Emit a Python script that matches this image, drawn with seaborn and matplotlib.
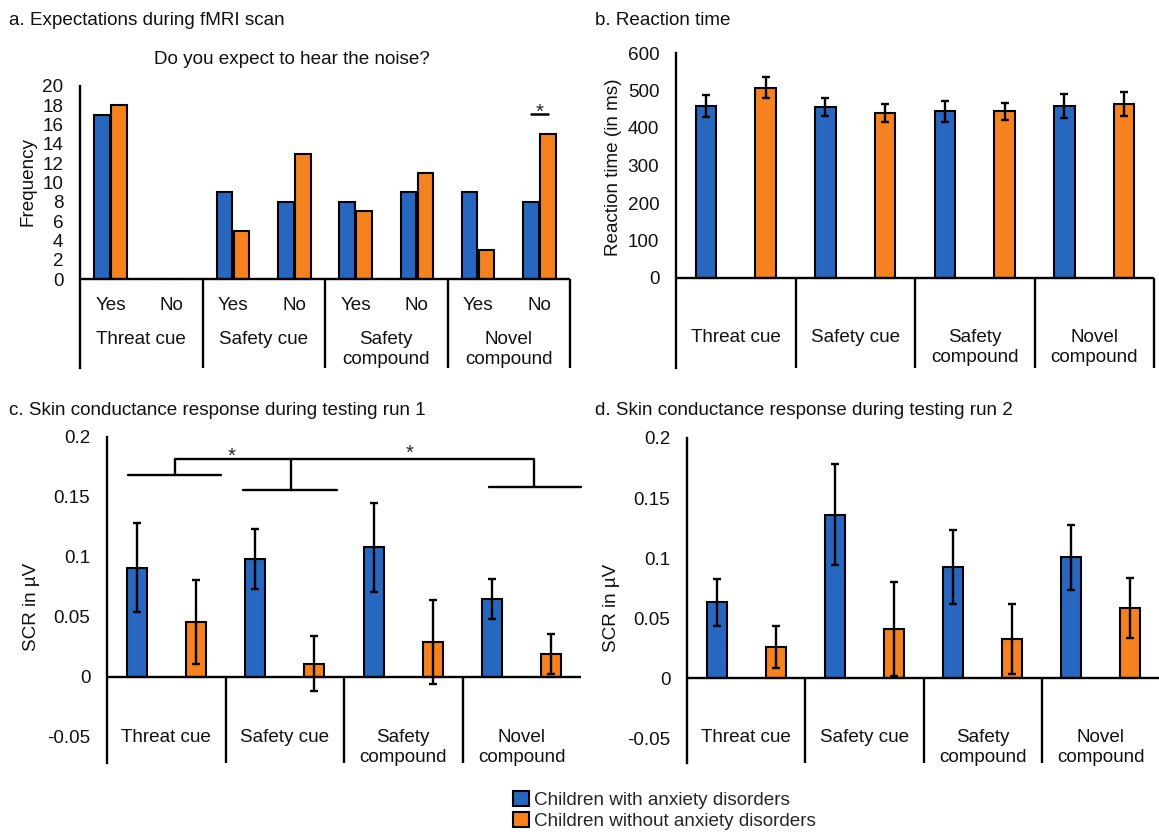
import matplotlib
matplotlib.use("Agg")
import matplotlib.pyplot as plt
import pandas as pd
import seaborn as sns
from matplotlib.patches import Patch

# ---------------------------------------------------------------- data
GROUPS = ["Children with anxiety disorders", "Children without anxiety disorders"]
CUES = ["Threat cue", "Safety cue", "Safety\ncompound", "Novel\ncompound"]
ANSWERS = ["Yes", "No"]

# a. "Do you expect to hear the noise?" answer counts (Yes/No per cue)
expect_anx = [17, 0, 9, 8, 8, 9, 9, 8]
expect_ctrl = [18, 0, 5, 13, 7, 11, 3, 15]

# b. reaction time in ms (mean, SE)
rt_anx = [459, 456, 445, 459]
rt_anx_se = [30, 24, 28, 33]
rt_ctrl = [507, 440, 445, 464]
rt_ctrl_se = [28, 23, 23, 32]

# c. skin conductance response, testing run 1 (mean, SE)
scr1_anx = [0.091, 0.098, 0.108, 0.065]
scr1_anx_se = [0.037, 0.025, 0.037, 0.017]
scr1_ctrl = [0.046, 0.011, 0.029, 0.019]
scr1_ctrl_se = [0.035, 0.023, 0.035, 0.0165]

# d. skin conductance response, testing run 2 (mean, SE)
scr2_anx = [0.063, 0.136, 0.0925, 0.1005]
scr2_anx_se = [0.0195, 0.042, 0.031, 0.027]
scr2_ctrl = [0.026, 0.041, 0.0325, 0.0585]
scr2_ctrl_se = [0.0175, 0.039, 0.029, 0.025]

PALETTE = {GROUPS[0]: "#2767C0", GROUPS[1]: "#F5821F"}

# ---------------------------------------------------------------- style
sns.set_style("white")
plt.rcParams["font.family"] = ["Liberation Sans", "DejaVu Sans"]
FS = 13.6
LINE_PX = 20          # distance between stacked label lines, in pixels
plt.rcParams["font.size"] = FS

W, H = 1159, 834
fig = plt.figure(figsize=(W / 100, H / 100), dpi=100)


def add_axes_px(left, right, top, bottom):
    return fig.add_axes([left / W, 1 - bottom / H, (right - left) / W, (bottom - top) / H])


def data_y(ax, px):
    """Figure pixel row (from top) -> data y of the axes."""
    return ax.transData.inverted().transform((0, H - px))[1]


def long_frame(cats, anx, ctrl):
    rows = []
    for grp, vals in ((GROUPS[0], anx), (GROUPS[1], ctrl)):
        for c, v in zip(cats, vals):
            rows.append({"cat": c, "group": grp, "value": v})
    return pd.DataFrame(rows)


def draw_bars(ax, cats, anx, ctrl, width, gap):
    df = long_frame(cats, anx, ctrl)
    sns.barplot(data=df, x="cat", y="value", hue="group", order=cats,
                hue_order=GROUPS, palette=PALETTE, saturation=1,
                width=width, gap=gap, errorbar=None, edgecolor="black",
                linewidth=1.5, legend=False, ax=ax, zorder=2)


def draw_errors(ax, errs_by_group):
    for cont, errs in zip(ax.containers, errs_by_group):
        xs, ys, es = [], [], []
        for p in cont.patches:
            cx = p.get_x() + p.get_width() / 2
            xs.append(cx)
            ys.append(p.get_height())
            es.append(errs[int(round(cx))])
        ax.errorbar(xs, ys, yerr=es, fmt="none", ecolor="black",
                    elinewidth=1.7, capsize=2.6, capthick=1.7, zorder=4)


def frame(ax, ylim, ticks, labels, dividers):
    ax.set_ylim(*ylim)
    ax.set_yticks(ticks, labels)
    ax.set_xticks([])
    ax.set_xlabel("")
    ax.set_ylabel("")
    for s in ("top", "right", "bottom"):
        ax.spines[s].set_visible(False)
    ax.spines["left"].set_linewidth(1.7)
    ax.spines["left"].set_color("black")
    ax.tick_params(axis="y", length=0, pad=12, labelsize=FS, colors="#111111")
    ax.axhline(0, color="black", lw=1.7, zorder=3)
    ax.vlines(dividers, ylim[0], 0, color="black", lw=1.7, clip_on=False)


def ylabel(text, cx, cy):
    fig.text(cx / W, 1 - cy / H, text, rotation=90, ha="center", va="center",
             fontsize=FS, color="#111111")


def cue_labels(ax, xs, labels, baseline_px):
    for x, lab in zip(xs, labels):
        for k, line in enumerate(lab.split("\n")):
            y = data_y(ax, baseline_px + k * LINE_PX)
            ax.text(x, y, line, ha="center", va="baseline", fontsize=FS,
                    color="#111111")


# ---------------------------------------------------------------- a
ax_a = add_axes_px(80, 570, 86, 368)
slots = [f"{c}|{a}" for c in CUES for a in ANSWERS]
draw_bars(ax_a, slots, expect_anx, expect_ctrl, width=0.56, gap=0.1)
ax_a.set_xlim(-0.5, 7.5)
frame(ax_a, (-9.22, 20), range(0, 21, 2), [str(v) for v in range(0, 21, 2)],
      [1.5, 3.5, 5.5, 7.5])
cue_labels(ax_a, range(8), ANSWERS * 4, 310)
cue_labels(ax_a, [0.5, 2.5, 4.5, 6.5], CUES, 344)
# significance marker over Novel compound / No
ax_a.plot([6.86, 7.14], [17.1, 17.1], color="black", lw=1.8, clip_on=False)
ax_a.text(7.0, 16.75, "*", ha="center", va="baseline", fontsize=FS + 1)
ylabel("Frequency", 28, 182)

# ---------------------------------------------------------------- b
ax_b = add_axes_px(676, 1154, 53, 368)
draw_bars(ax_b, CUES, rt_anx, rt_ctrl, width=1.0, gap=0.66)
ax_b.set_xlim(-0.5, 3.5)
draw_errors(ax_b, [rt_anx_se, rt_ctrl_se])
frame(ax_b, (-240, 600), range(0, 601, 100), [str(v) for v in range(0, 601, 100)],
      [0.5, 1.5, 2.5, 3.5])
cue_labels(ax_b, range(4), CUES, 342)
ylabel("Reaction time (in ms)", 614, 167)

# ---------------------------------------------------------------- c / d
scr_ticks = [-0.05, 0, 0.05, 0.1, 0.15, 0.2]
scr_labels = ["-0.05", "0", "0.05", "0.1", "0.15", "0.2"]

ax_c = add_axes_px(107, 581, 437, 763)
draw_bars(ax_c, CUES, scr1_anx, scr1_ctrl, width=1.0, gap=0.66)
ax_c.set_xlim(-0.5, 3.5)
draw_errors(ax_c, [scr1_anx_se, scr1_ctrl_se])
frame(ax_c, (-0.0717, 0.2), scr_ticks, scr_labels, [0.5, 1.5, 2.5])
cue_labels(ax_c, range(4), CUES, 742)
ylabel("SCR in µV", 32, 607)

# comparison brackets: threat vs safety cue, safety cue vs novel compound
br = dict(color="black", lw=1.7, clip_on=False, zorder=5)
ax_c.plot([-0.32, 0.466], [0.168, 0.168], **br)
ax_c.plot([0.076, 0.076, 3.10, 3.10], [0.168, 0.182, 0.182, 0.158], **br)
ax_c.plot([1.05, 1.05], [0.182, 0.156], **br)
ax_c.plot([0.65, 1.44], [0.156, 0.156], **br)
ax_c.plot([2.72, 3.5], [0.158, 0.158], **br)
ax_c.text(0.55, 0.179, "*", ha="center", va="baseline", fontsize=FS + 1)
ax_c.text(2.05, 0.1815, "*", ha="center", va="baseline", fontsize=FS + 1)

ax_d = add_axes_px(687, 1160, 438, 763)
draw_bars(ax_d, CUES, scr2_anx, scr2_ctrl, width=1.0, gap=0.66)
ax_d.set_xlim(-0.5, 3.5)
draw_errors(ax_d, [scr2_anx_se, scr2_ctrl_se])
frame(ax_d, (-0.0708, 0.2), scr_ticks, scr_labels, [0.5, 1.5, 2.5])
cue_labels(ax_d, range(4), CUES, 742)
ylabel("SCR in µV", 612, 608)

# ---------------------------------------------------------------- titles
def title(x, y, text):
    fig.text(x / W, 1 - y / H, text, ha="left", va="baseline", fontsize=FS,
             color="#111111")


title(9, 25, "a. Expectations during fMRI scan")
title(595, 25, "b. Reaction time")
title(9, 415, "c. Skin conductance response during testing run 1")
title(595, 415, "d. Skin conductance response during testing run 2")
fig.text(292 / W, 1 - 63.5 / H, "Do you expect to hear the noise?", ha="center",
         va="baseline", fontsize=FS, color="#111111")

# ---------------------------------------------------------------- legend
handles = [Patch(facecolor=PALETTE[g], edgecolor="black", linewidth=1.5) for g in GROUPS]
fig.legend(handles, GROUPS, loc="upper left", bbox_to_anchor=(513 / W, 1 - 791 / H),
           frameon=False, fontsize=FS, handlelength=0.85, handleheight=0.85,
           handletextpad=0.25, labelspacing=0.15, borderpad=0, borderaxespad=0)

fig.savefig("out.png", dpi=100)
